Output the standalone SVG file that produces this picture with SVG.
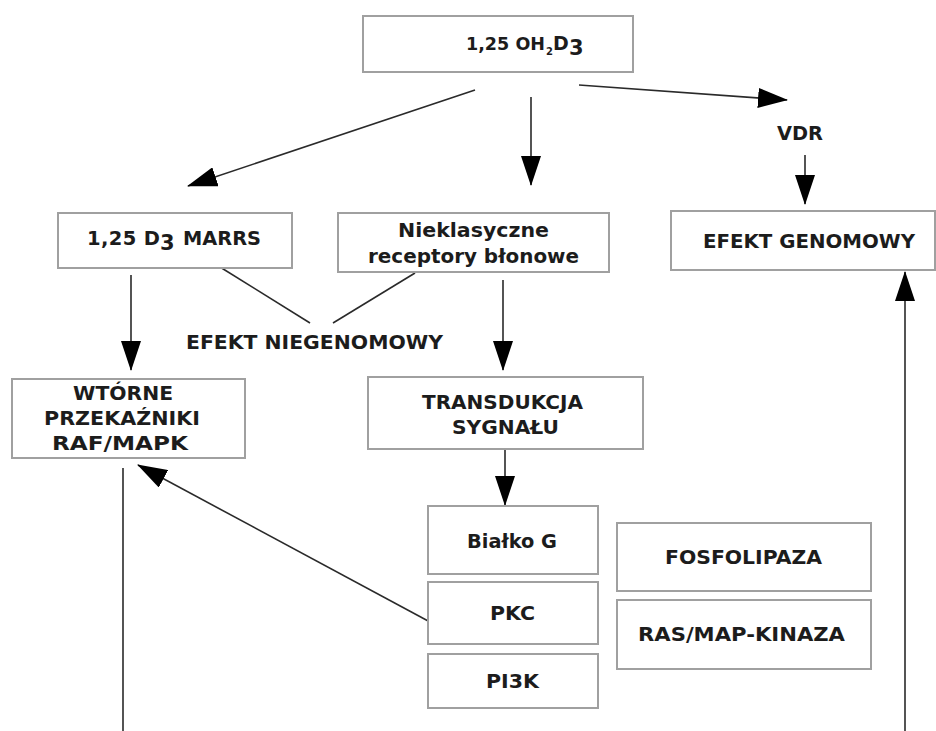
<svg xmlns="http://www.w3.org/2000/svg" width="936" height="731" viewBox="0 0 936 731">
<defs>
<style>
.box{fill:#fff;stroke:#a0a0a0;stroke-width:2}
.t{font-family:"DejaVu Sans","Liberation Sans",sans-serif;font-weight:bold;font-size:19.5px;fill:#1c1c1c}
.c{stroke:#2a2a2a;stroke-width:1.6;fill:none}
.a{marker-end:url(#ah)}
</style>
<marker id="ah" markerUnits="userSpaceOnUse" markerWidth="30" markerHeight="20" refX="29" refY="10" orient="auto" viewBox="0 0 30 20">
<path d="M0,0 L30,10 L0,20 z" fill="#000"/>
</marker>
</defs>
<rect width="936" height="731" fill="#fff"/>

<g id="connectors">
<line class="c a" x1="475" y1="90" x2="188" y2="186"/>
<line class="c a" x1="531" y1="97" x2="531" y2="185"/>
<line class="c a" x1="579" y1="85" x2="787" y2="100"/>
<line class="c a" x1="805" y1="155" x2="805" y2="204"/>
<line class="c" x1="220" y1="267" x2="310" y2="323"/>
<line class="c" x1="415" y1="273" x2="333" y2="323"/>
<line class="c a" x1="131" y1="275" x2="131" y2="370"/>
<line class="c a" x1="503" y1="280" x2="503" y2="370"/>
<line class="c a" x1="505" y1="449" x2="505" y2="505"/>
<line class="c a" x1="430" y1="622" x2="138" y2="465"/>
<line class="c" x1="123" y1="468" x2="123" y2="731"/>
<line class="c a" x1="905" y1="731" x2="905" y2="272"/>
</g>

<g id="n_top">
<rect class="box" x="363" y="16" width="270" height="56"/>
<text class="t" x="466" y="50" style="font-size:18px" textLength="79" lengthAdjust="spacingAndGlyphs">1,25 OH</text>
<text class="t" x="546" y="55" style="font-size:10px">2</text>
<text class="t" x="553" y="50" style="font-size:19px">D</text>
<text class="t" x="569" y="55" style="font-size:21px">3</text>
</g>

<g id="n_vdr">
<text class="t" x="777" y="140" textLength="46" lengthAdjust="spacingAndGlyphs">VDR</text>
</g>

<g id="n_marrs">
<rect class="box" x="58" y="213" width="234" height="55"/>
<text class="t" x="87" y="245" textLength="73" lengthAdjust="spacing">1,25 D</text>
<text class="t" x="160" y="250" style="font-size:21px">3</text>
<text class="t" x="183" y="245" textLength="78" lengthAdjust="spacingAndGlyphs">MARRS</text>
</g>

<g id="n_niekl">
<rect class="box" x="338" y="213" width="271" height="59"/>
<text class="t" x="398" y="237" textLength="151" lengthAdjust="spacingAndGlyphs">Nieklasyczne</text>
<text class="t" x="368" y="263" textLength="211" lengthAdjust="spacingAndGlyphs">receptory błonowe</text>
</g>

<g id="n_genom">
<rect class="box" x="671" y="211" width="264" height="59"/>
<text class="t" x="703" y="248" textLength="212" lengthAdjust="spacingAndGlyphs">EFEKT GENOMOWY</text>
</g>

<g id="n_niegenom">
<text class="t" x="186" y="349" textLength="257" lengthAdjust="spacingAndGlyphs">EFEKT NIEGENOMOWY</text>
</g>

<g id="n_wtorne">
<rect class="box" x="12" y="379" width="233" height="79"/>
<text class="t" x="73" y="400" textLength="100" lengthAdjust="spacingAndGlyphs">WTÓRNE</text>
<text class="t" x="44" y="425" textLength="156" lengthAdjust="spacingAndGlyphs">PRZEKAŹNIKI</text>
<text class="t" x="52" y="450" textLength="136" lengthAdjust="spacingAndGlyphs">RAF/MAPK</text>
</g>

<g id="n_transd">
<rect class="box" x="368" y="377" width="275" height="72"/>
<text class="t" x="422" y="409" textLength="161" lengthAdjust="spacingAndGlyphs">TRANSDUKCJA</text>
<text class="t" x="452" y="434" textLength="107" lengthAdjust="spacingAndGlyphs">SYGNAŁU</text>
</g>

<g id="n_bialko">
<rect class="box" x="428" y="506" width="170" height="68"/>
<text class="t" x="467" y="548" textLength="90" lengthAdjust="spacingAndGlyphs">Białko G</text>
</g>

<g id="n_pkc">
<rect class="box" x="428" y="582" width="170" height="62"/>
<text class="t" x="490" y="620" textLength="45" lengthAdjust="spacingAndGlyphs">PKC</text>
</g>

<g id="n_pi3k">
<rect class="box" x="428" y="654" width="170" height="54"/>
<text class="t" x="486" y="688" textLength="53" lengthAdjust="spacingAndGlyphs">PI3K</text>
</g>

<g id="n_fosf">
<rect class="box" x="617" y="523" width="254" height="68"/>
<text class="t" x="665" y="564" textLength="157" lengthAdjust="spacingAndGlyphs">FOSFOLIPAZA</text>
</g>

<g id="n_ras">
<rect class="box" x="617" y="600" width="254" height="69"/>
<text class="t" x="638" y="641" textLength="207" lengthAdjust="spacingAndGlyphs">RAS/MAP-KINAZA</text>
</g>
</svg>
